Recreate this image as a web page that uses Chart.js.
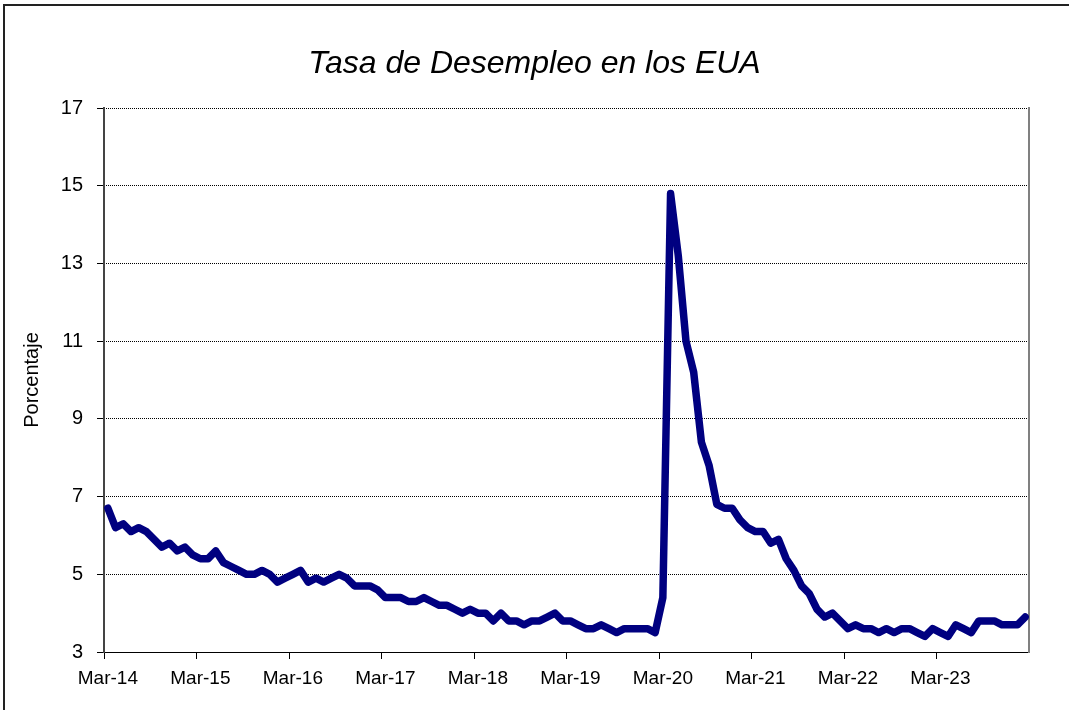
<!DOCTYPE html>
<html>
<head>
<meta charset="utf-8">
<script src="https://cdn.jsdelivr.net/npm/chart.js@4/dist/chart.umd.min.js"></script>
<style>
  html, body { margin: 0; padding: 0; background: #fff; }
  #wrap { position: relative; width: 1069px; height: 710px; overflow: hidden; }
  #frame { position: absolute; left: 3px; top: 4px; width: 1100px; height: 720px;
           border-top: 2px solid #222; border-left: 2px solid #222; pointer-events: none; }
  canvas { display: block; }
</style>
</head>
<body>
<div id="wrap">
  <canvas id="c" width="1069" height="710"></canvas>
  <div id="frame"></div>
</div>
<script>
// ---- Data ----
const monthNames = ['Jan','Feb','Mar','Apr','May','Jun','Jul','Aug','Sep','Oct','Nov','Dec'];
const startYear = 14;   // series starts Mar-14
const startMonth = 2;   // index of 'Mar'
const titleText = 'Tasa de Desempleo en los EUA';
const yAxisTitle = 'Porcentaje';
const yTicks = [3, 5, 7, 9, 11, 13, 15, 17];

// Unemployment rate (%), monthly, Mar-14 .. Feb-24
const rates = [
  6.7, 6.2, 6.3, 6.1, 6.2, 6.1, 5.9, 5.7, 5.8, 5.6,             // 2014 Mar-Dec
  5.7, 5.5, 5.4, 5.4, 5.6, 5.3, 5.2, 5.1, 5.0, 5.0, 5.1, 5.0,   // 2015
  4.8, 4.9, 5.0, 5.1, 4.8, 4.9, 4.8, 4.9, 5.0, 4.9, 4.7, 4.7,   // 2016
  4.7, 4.6, 4.4, 4.4, 4.4, 4.3, 4.3, 4.4, 4.3, 4.2, 4.2, 4.1,   // 2017
  4.0, 4.1, 4.0, 4.0, 3.8, 4.0, 3.8, 3.8, 3.7, 3.8, 3.8, 3.9,   // 2018
  4.0, 3.8, 3.8, 3.7, 3.6, 3.6, 3.7, 3.6, 3.5, 3.6, 3.6, 3.6,   // 2019
  3.6, 3.5, 4.4, 14.8, 13.2, 11.0, 10.2, 8.4, 7.8, 6.8, 6.7, 6.7, // 2020
  6.4, 6.2, 6.1, 6.1, 5.8, 5.9, 5.4, 5.1, 4.7, 4.5, 4.1, 3.9,   // 2021
  4.0, 3.8, 3.6, 3.7, 3.6, 3.6, 3.5, 3.6, 3.5, 3.6, 3.6, 3.5,   // 2022
  3.4, 3.6, 3.5, 3.4, 3.7, 3.6, 3.5, 3.8, 3.8, 3.8, 3.7, 3.7,   // 2023
  3.7, 3.9                                                      // 2024 Jan-Feb
];

// Category labels like "Mar-14"
const categories = rates.map((_, i) => {
  const m = startMonth + i;
  const yr = startYear + Math.floor(m / 12);
  return monthNames[m % 12] + '-' + String(yr).padStart(2, '0');
});

const FONT = "'Liberation Sans', Arial, sans-serif";

// dotted stroke pattern for horizontal gridlines
const pc = document.createElement('canvas');
pc.width = 2; pc.height = 1;
const pctx = pc.getContext('2d');
pctx.fillStyle = '#000';
pctx.fillRect(0, 0, 1, 1);
const dotted = document.getElementById('c').getContext('2d').createPattern(pc, 'repeat');

new Chart(document.getElementById('c'), {
  type: 'line',
  data: {
    labels: categories,
    datasets: [{
      data: rates,
      borderColor: '#000080',
      backgroundColor: '#000080',
      borderWidth: 7.5,
      pointRadius: 0,
      pointHoverRadius: 0,
      tension: 0,
      fill: false,
      borderJoinStyle: 'round',
      borderCapStyle: 'round',
      yAxisID: 'y'
    }]
  },
  options: {
    responsive: false,
    animation: false,
    devicePixelRatio: 1,
    layout: { padding: 0 },
    plugins: {
      legend: { display: false },
      tooltip: { enabled: false },
      title: {
        display: true,
        text: titleText,
        color: '#000',
        font: { family: FONT, size: 32, style: 'italic', weight: 'normal', lineHeight: 1.2 },
        padding: { top: 45, bottom: 24.6 }
      }
    },
    scales: {
      x: {
        type: 'category',
        offset: true,
        grid: {
          offset: true,
          drawOnChartArea: false,
          drawTicks: true,
          tickLength: 7,
          tickWidth: 1,
          tickColor: ctx => (ctx.index % 12 === 0 ? '#000' : 'rgba(0,0,0,0)'),
          color: 'rgba(0,0,0,0)'
        },
        border: { display: true, color: '#000', width: 1 },
        ticks: {
          autoSkip: false,
          maxRotation: 0,
          minRotation: 0,
          padding: 8,
          color: '#000',
          font: { family: FONT, size: 19 },
          callback: (v, i) => (i % 12 === 0 ? categories[i] : '')
        },
        afterFit: s => { s.height = 58; }
      },
      y: {
        position: 'left',
        min: 3,
        max: 17,
        afterBuildTicks: s => { s.ticks = yTicks.map(v => ({ value: v })); },
        grid: {
          color: dotted,
          lineWidth: 1,
          tickColor: '#000',
          tickLength: 7,
          drawTicks: true
        },
        border: { display: true, color: '#444', width: 2 },
        ticks: {
          padding: 14,
          color: '#000',
          font: { family: FONT, size: 20 }
        },
        title: {
          display: true,
          text: yAxisTitle,
          color: '#000',
          font: { family: FONT, size: 20, lineHeight: 1.2 },
          padding: { top: 20, bottom: 0 }
        },
        afterFit: s => { s.width = 104; }
      },
      y2: {
        position: 'right',
        min: 3,
        max: 17,
        grid: { drawOnChartArea: false, drawTicks: false, display: false },
        ticks: { display: false },
        border: { display: true, color: '#808080', width: 2 },
        afterFit: s => { s.width = 40; }
      }
    }
  }
});
</script>
</body>
</html>
